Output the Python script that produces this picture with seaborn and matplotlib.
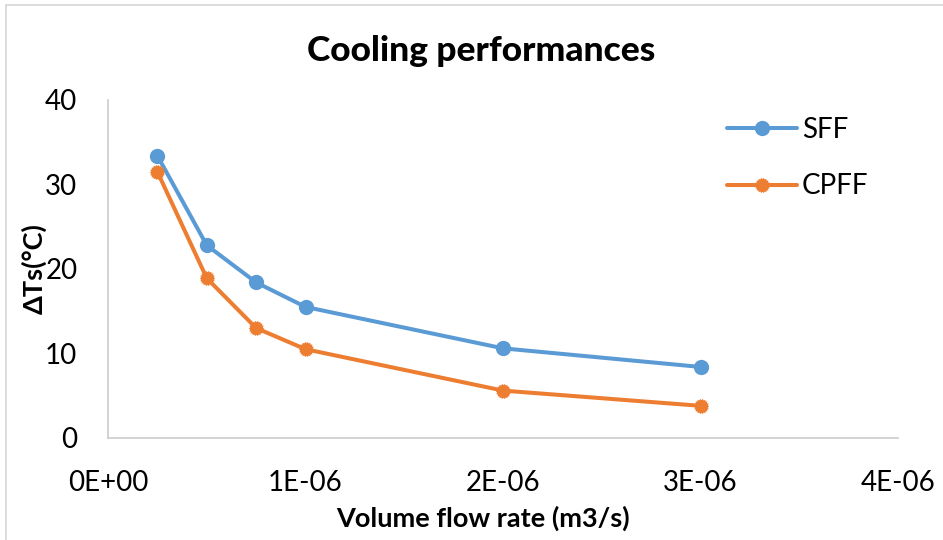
import numpy as np
import pandas as pd
import matplotlib
matplotlib.use("Agg")
import matplotlib.pyplot as plt
from matplotlib.path import Path
from matplotlib.lines import Line2D
import seaborn as sns

# Measured cooling performance for the two fin configurations
flow_rate = [0.25e-6, 0.5e-6, 0.75e-6, 1.0e-6, 2.0e-6, 3.0e-6]   # m3/s
sff = [33.4, 22.8, 18.4, 15.5, 10.6, 8.4]
cpff = [31.5, 18.9, 13.0, 10.5, 5.6, 3.8]

x_ticks = [0, 1e-6, 2e-6, 3e-6, 4e-6]
x_tick_labels = ["0E+00", "1E-06", "2E-06", "3E-06", "4E-06"]
y_ticks = [0, 10, 20, 30, 40]

BLUE = "#5B9BD5"
ORANGE = "#ED7D31"

sns.set_theme(style="white")
plt.rcParams["font.family"] = ["Lato", "DejaVu Sans"]
plt.rcParams["text.color"] = "black"
plt.rcParams["axes.labelcolor"] = "black"

df = pd.DataFrame({"flow": flow_rate, "SFF": sff, "CPFF": cpff})

# Jagged round marker for the CPFF series
n = 18
ang = np.linspace(0, 2 * np.pi, 2 * n, endpoint=False)
rad = np.where(np.arange(2 * n) % 2 == 0, 1.0, 0.84)
verts = np.column_stack([rad * np.cos(ang), rad * np.sin(ang)])
verts = np.vstack([verts, verts[:1]])
codes = [Path.MOVETO] + [Path.LINETO] * (len(verts) - 2) + [Path.CLOSEPOLY]
gear = Path(verts, codes)

fig = plt.figure(figsize=(9.43, 5.40), dpi=100)
ax = fig.add_axes([0.1145, 0.189, 0.838, 0.626])

sns.lineplot(data=df, x="flow", y="SFF", ax=ax, color=BLUE, lw=2.9,
             marker="o", markersize=11, markeredgewidth=0, label="SFF")
sns.lineplot(data=df, x="flow", y="CPFF", ax=ax, color=ORANGE, lw=2.9,
             marker=gear, markersize=11, markeredgewidth=0, label="CPFF")

ax.set_xlim(0, 4e-6)
ax.set_ylim(0, 40)
ax.set_xticks(x_ticks)
ax.set_xticklabels(x_tick_labels)
ax.set_yticks(y_ticks)
ax.tick_params(axis="both", length=0, labelsize=20, colors="#000000")
ax.tick_params(axis="x", pad=23)
ax.tick_params(axis="y", pad=22)

for side in ["top", "right"]:
    ax.spines[side].set_visible(False)
for side in ["left", "bottom"]:
    ax.spines[side].set_color("#D0D0D0")
    ax.spines[side].set_linewidth(1.3)
ax.grid(False)

ax.set_title("Cooling performances", fontsize=25.5, fontweight=900, pad=28, x=0.472,
             color="black")
ax.set_xlabel("Volume flow rate (m3/s)", fontsize=19.5, fontweight="bold",
              labelpad=7, x=0.475, color="black")
ax.set_ylabel("ΔTs(°C)", fontsize=19.5, fontweight="bold", color="black")
ax.yaxis.set_label_coords(-0.077, 0.5)

handles = [
    Line2D([], [], color=BLUE, lw=2.9, marker="o", markersize=11, markeredgewidth=0),
    Line2D([], [], color=ORANGE, lw=2.9, marker=gear, markersize=11, markeredgewidth=0),
]
leg = ax.legend(handles, ["SFF", "CPFF"], loc="upper left", bbox_to_anchor=(0.7835, 0.95),
                frameon=False, fontsize=20, handlelength=2.5, labelspacing=1.1,
                handletextpad=0.2, borderpad=0, borderaxespad=0)
for t in leg.get_texts():
    t.set_color("black")

# Chart area outline
fig.add_artist(Line2D([0.006, 1.0], [0.991, 0.991], color="#D9D9D9", lw=1.3,
                      transform=fig.transFigure))
fig.add_artist(Line2D([0.006, 0.006], [0.0, 0.991], color="#D9D9D9", lw=1.3,
                      transform=fig.transFigure))

fig.savefig("out.png", dpi=100, facecolor="white")
